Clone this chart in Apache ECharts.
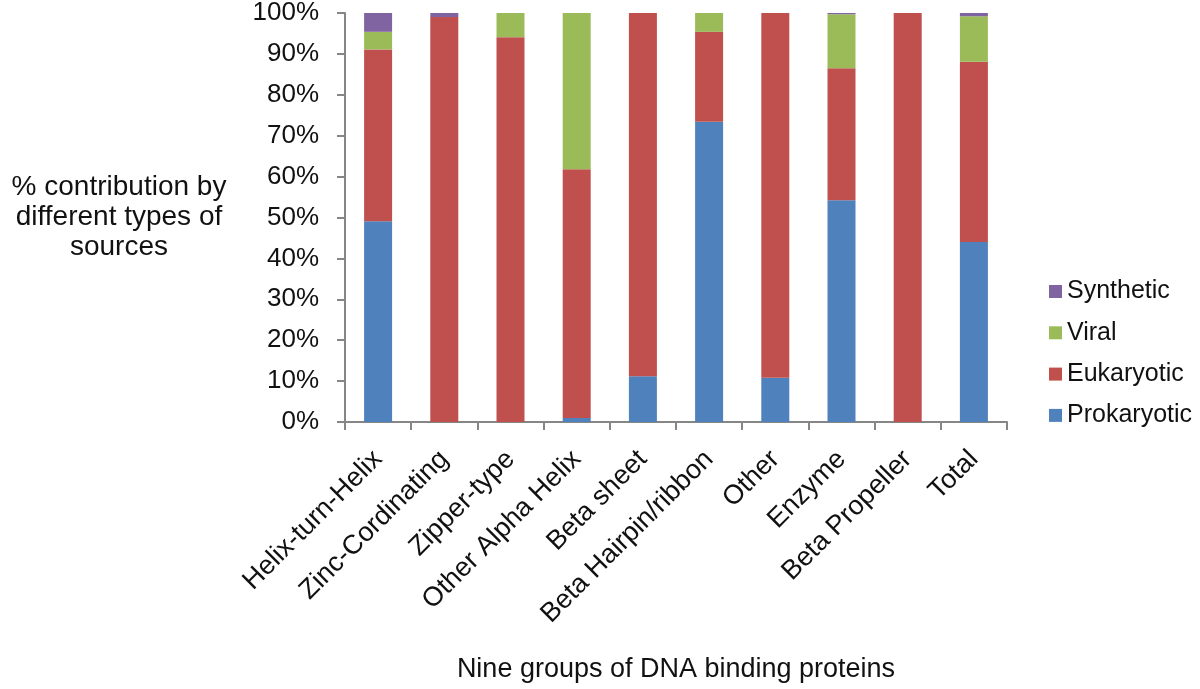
<!DOCTYPE html>
<html>
<head>
<meta charset="utf-8">
<script src="https://cdn.jsdelivr.net/npm/echarts@6/dist/echarts.min.js"></script>
<style>html,body{margin:0;padding:0;background:#fff;}#c{width:1200px;height:689px;}</style>
</head>
<body>
<div id="c"></div>
<script>
const categories = ['Helix-turn-Helix','Zinc-Cordinating','Zipper-type','Other Alpha Helix','Beta sheet','Beta Hairpin/ribbon','Other','Enzyme','Beta Propeller','Total'];
const prokaryotic = [49.1, 0, 0, 1.0, 11.2, 73.4, 10.8, 54.2, 0, 44.0];
const eukaryotic  = [42.0, 99.0, 94.1, 60.8, 88.8, 22.0, 89.2, 32.3, 100, 44.1];
const viral       = [4.3, 0, 5.9, 38.2, 0, 4.6, 0, 13.2, 0, 11.1];
const synthetic   = [4.6, 1.0, 0, 0, 0, 0, 0, 0.3, 0, 0.8];
const yTicks = [0,10,20,30,40,50,60,70,80,90,100];

const FONT = "'Liberation Sans', Arial, sans-serif";
const TXT = '#111';
const AX = '#868686';
const chart = echarts.init(document.getElementById('c'), null, {renderer:'canvas'});
function s(name, data, color){
  return {name, type:'bar', stack:'a', data, barWidth:28, itemStyle:{color}, emphasis:{disabled:true}};
}
chart.setOption({
  animation:false,
  textStyle:{fontFamily:FONT},
  grid:{left:345, right:193, top:11.5, bottom:267, containLabel:false},
  legend:{
    orient:'vertical', left:1044, top:274, icon:'rect', itemWidth:13, itemHeight:13, itemGap:16.3,
    data:['Synthetic','Viral','Eukaryotic','Prokaryotic'],
    textStyle:{fontFamily:FONT, fontSize:25, color:TXT}, selectedMode:false
  },
  xAxis:{
    type:'category', data:categories,
    name:'Nine groups of DNA binding proteins', nameLocation:'middle', nameGap:234,
    nameTextStyle:{fontFamily:FONT, fontSize:27, color:TXT},
    axisLine:{lineStyle:{color:AX, width:2}},
    axisTick:{show:true, interval:0, length:8, lineStyle:{color:AX, width:2}},
    axisLabel:{interval:0, rotate:45, margin:33, fontFamily:FONT, fontSize:27, color:TXT}
  },
  yAxis:{
    type:'value', min:yTicks[0], max:yTicks[yTicks.length-1], interval:10,
    name:'% contribution by\ndifferent types of\nsources', nameLocation:'middle', nameRotate:0, nameGap:226,
    nameTextStyle:{fontFamily:FONT, fontSize:28, color:TXT, align:'center', verticalAlign:'middle', lineHeight:30},
    splitLine:{show:false},
    axisLine:{show:true, lineStyle:{color:AX, width:2}},
    axisTick:{show:true, length:8, lineStyle:{color:AX, width:2}},
    axisLabel:{margin:26, formatter:'{value}%', fontFamily:FONT, fontSize:26, color:TXT}
  },
  series:[
    s('Prokaryotic', prokaryotic, '#4F81BD'),
    s('Eukaryotic', eukaryotic, '#C0504D'),
    s('Viral', viral, '#9BBB59'),
    s('Synthetic', synthetic, '#8064A2')
  ]
});
</script>
</body>
</html>
